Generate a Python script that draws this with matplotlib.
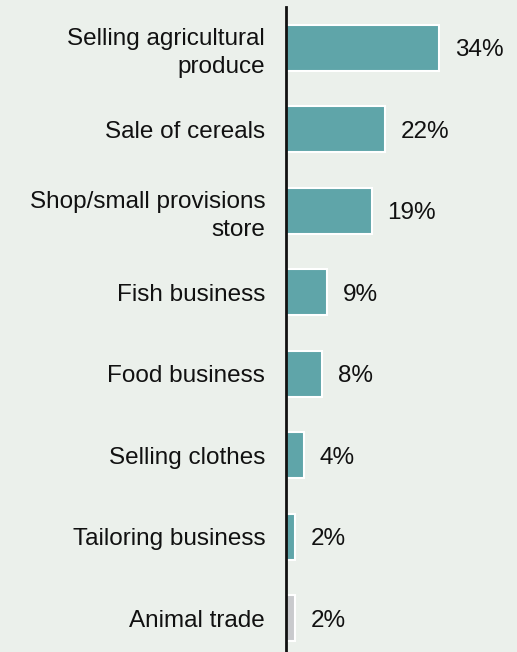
import matplotlib
matplotlib.use("Agg")
import matplotlib.pyplot as plt

categories = ["Selling agricultural\nproduce", "Sale of cereals", "Shop/small provisions\nstore",
              "Fish business", "Food business", "Selling clothes", "Tailoring business", "Animal trade"]
values = [34, 22, 19, 9, 8, 4, 2, 2]
labels = ["34%", "22%", "19%", "9%", "8%", "4%", "2%", "2%"]
colors = ["#5fa5a9"] * 7 + ["#c9cacd"]

bg = "#ebf0eb"
plt.rcParams['font.family'] = ['Liberation Sans', 'DejaVu Sans']

W, H = 517, 652
fig = plt.figure(figsize=(W / 100, H / 100), dpi=100, facecolor=bg)
ax = fig.add_axes([286 / W, 0, 1 - 286 / W, 645 / H])
ax.set_facecolor(bg)

y = list(range(len(categories)))
ax.barh(y, values, height=0.56, color=colors, edgecolor="white", linewidth=1.5, zorder=2)
for yi, v, lab in zip(y, values, labels):
    ax.annotate(lab, (v, yi), xytext=(11.5, 0), textcoords="offset points",
                va="center_baseline", ha="left", fontsize=17.5, color="#111111")

ax.set_xlim(0, (W - 286) / 4.5)
ax.set_ylim(-0.5 + 645 / 81.5, -0.5)
ax.set_yticks(y)
ax.set_yticklabels(categories, fontsize=17.5, color="#111111", linespacing=1.35)
ax.tick_params(axis="y", length=0, pad=15)
ax.set_xticks([])
for s in ["top", "right", "bottom"]:
    ax.spines[s].set_visible(False)
ax.spines["left"].set_linewidth(2)
ax.spines["left"].set_color("#111111")
ax.spines["left"].set_zorder(3)

fig.savefig("out.png", dpi=100, facecolor=bg)
